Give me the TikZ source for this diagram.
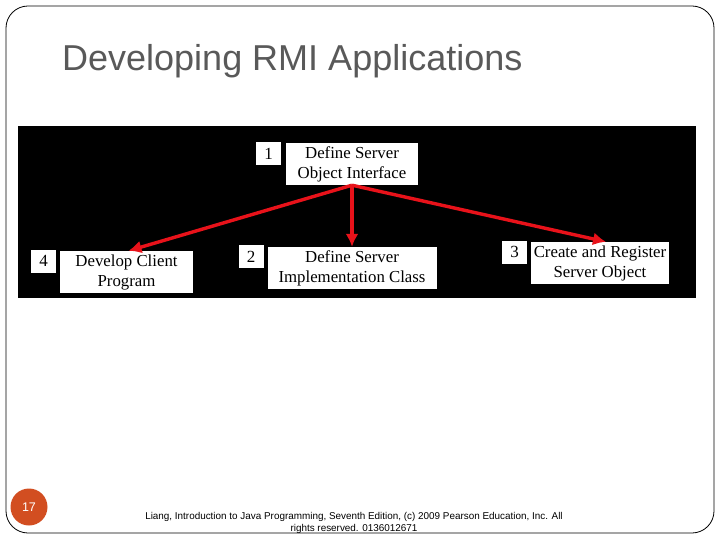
\documentclass[tikz,border=0pt]{standalone}
\usepackage{fontspec}
\setmainfont{Liberation Serif}
\setsansfont{Liberation Sans}
\usetikzlibrary{arrows.meta}
\definecolor{titlegray}{HTML}{595959}
\definecolor{arrowred}{HTML}{E8121A}
\definecolor{pagedot}{HTML}{D24E21}
\tikzset{
  stepnum/.style={fill=white,inner sep=0pt,minimum width=25pt,minimum height=23pt,font=\fontsize{17}{20}\selectfont},
  stepbox/.style={fill=white,inner sep=0pt,minimum height=42pt,align=center,font=\fontsize{16.8}{20}\selectfont},
  redarrow/.style={draw=arrowred,line width=3.4pt,-{Latex[length=13pt,width=13pt]}}
}
\begin{document}
\begin{tikzpicture}[x=1pt,y=-1pt]
\useasboundingbox (0,0) rectangle (720,540);
\draw[rounded corners=22pt,line width=0.8pt] (6,6) rectangle (714,533);
\node[anchor=base west,text=titlegray,font=\sffamily\fontsize{36}{40}\selectfont,inner sep=0pt] (title) at (62,71) {Developing RMI Applications};
\fill[black] (18,126) rectangle (696,298);
% the four steps
\node[stepnum] (n1) at (268.5,153.5) {1};
\node[stepbox,minimum width=132pt] (b1) at (352,164) {Define Server\\Object Interface};
\node[stepnum] (n4) at (43.5,261) {4};
\node[stepbox,minimum width=133pt] (b4) at (126.5,272) {Develop Client\\Program};
\node[stepnum] (n2) at (251,256.5) {2};
\node[stepbox,minimum width=169pt] (b2) at (352,268) {Define Server\\Implementation Class};
\node[stepnum] (n3) at (514.5,252) {3};
\node[stepbox,minimum width=138pt] (b3) at (600,263) {Create and Register\\Server Object};
\draw[redarrow] (b1.south) -- (b2.north);
\draw[redarrow] (b1.south) -- ([xshift=2pt]b4.north);
\draw[redarrow] (b1.south) -- ([xshift=6pt]b3.north);
% footer
\node[circle,fill=pagedot,minimum size=37pt,inner sep=0pt,text=white,font=\sffamily\fontsize{12.5}{14}\selectfont] (page) at (29,507) {17};
\node[align=center,font=\sffamily\fontsize{9.9}{12}\selectfont,inner sep=0pt,anchor=north] (credit) at (354,512.5) {Liang, Introduction to Java Programming, Seventh Edition, (c) 2009 Pearson Education, Inc. All\\rights reserved. 0136012671};
\end{tikzpicture}
\end{document}
